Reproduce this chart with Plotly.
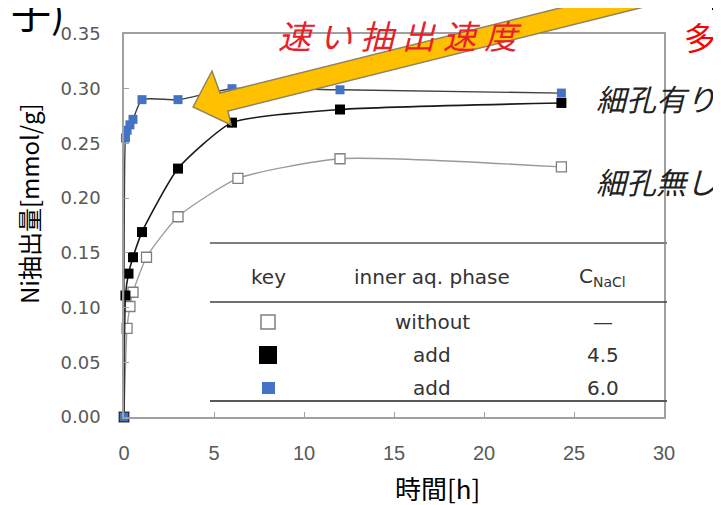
import plotly.graph_objects as go

# ---------------- data ----------------
t_without = [0, 0.17, 0.33, 0.5, 1.25, 3, 6.33, 12, 24.3]
y_without = [0, 0.081, 0.101, 0.114, 0.146, 0.183, 0.218, 0.236, 0.2285]

t_add45 = [0, 0.08, 0.25, 0.5, 1, 3, 6, 12, 24.3]
y_add45 = [0, 0.111, 0.131, 0.146, 0.169, 0.227, 0.269, 0.281, 0.287]

t_add60 = [0, 0.08, 0.17, 0.33, 0.5, 1, 3, 6, 12, 24.3]
y_add60 = [0, 0.255, 0.262, 0.267, 0.272, 0.290, 0.290, 0.300, 0.299, 0.296]

x_ticks = [0, 5, 10, 15, 20, 25, 30]
y_ticks = [0.00, 0.05, 0.10, 0.15, 0.20, 0.25, 0.30, 0.35]

table_header = ["key", "inner aq. phase", "C<sub>NaCl</sub>"]
table_phase = ["without", "add", "add"]
table_conc = ["—", "4.5", "6.0"]

# ---------------- layout helpers (screen pixel -> paper) ----------------
OFF = 8                      # page body margin
SW, SH = 721, 505            # window size
L, R, T, B = 124, 664, 34, 417   # plot area in screen pixels
W, H = SW - OFF, SH - OFF
def PX(x):
    return (x - L) / (R - L)
def PY(y):
    return (B - y) / (B - T)

fig = go.Figure()
fig.add_trace(go.Scatter(
    x=t_without, y=y_without, mode="lines+markers",
    line=dict(color="#9a9a9a", width=1.3, shape="spline", smoothing=0.55),
    marker=dict(symbol="square", size=10, color="white", line=dict(color="#7f7f7f", width=1.3)),
    cliponaxis=False, showlegend=False))
fig.add_trace(go.Scatter(
    x=t_add45, y=y_add45, mode="lines+markers",
    line=dict(color="#1a1a1a", width=1.6, shape="spline", smoothing=0.55),
    marker=dict(symbol="square", size=10, color="black"),
    cliponaxis=False, showlegend=False))
fig.add_trace(go.Scatter(
    x=t_add60, y=y_add60, mode="lines+markers",
    line=dict(color="#404040", width=1.4, shape="spline", smoothing=0.55),
    marker=dict(symbol="square", size=9, color="#4472C4"),
    cliponaxis=False, showlegend=False))

shapes = []
# table lines
shapes.append(dict(type="line", xref="paper", yref="paper", x0=PX(210), x1=PX(667), y0=PY(243), y1=PY(243),
                   line=dict(color="#7f7f7f", width=2)))
shapes.append(dict(type="line", xref="paper", yref="paper", x0=PX(210), x1=PX(667), y0=PY(302), y1=PY(302),
                   line=dict(color="#404040", width=1.5)))
shapes.append(dict(type="line", xref="paper", yref="paper", x0=PX(210), x1=PX(667), y0=PY(401), y1=PY(401),
                   line=dict(color="#595959", width=2)))
# key symbols
shapes.append(dict(type="rect", xref="paper", yref="paper", x0=PX(261), x1=PX(275), y0=PY(329), y1=PY(315),
                   fillcolor="white", line=dict(color="#7f7f7f", width=1.5)))
shapes.append(dict(type="rect", xref="paper", yref="paper", x0=PX(259), x1=PX(277), y0=PY(364), y1=PY(346),
                   fillcolor="black", line=dict(width=0)))
shapes.append(dict(type="rect", xref="paper", yref="paper", x0=PX(262), x1=PX(275), y0=PY(394), y1=PY(382),
                   fillcolor="#4472C4", line=dict(width=0)))
# yellow arrow (screen pixels)
arrow_px = [(193, 107), (212, 71), (220, 93), (740, -37), (740, -17), (228, 111), (231, 125)]
path = "M " + " L ".join(f"{PX(x):.5f},{PY(y):.5f}" for x, y in arrow_px) + " Z"
shapes.append(dict(type="path", xref="paper", yref="paper", path=path, layer="above",
                   fillcolor="#FFC000", line=dict(color="#8c8460", width=1.5)))
# small black fragment top right
shapes.append(dict(type="rect", xref="paper", yref="paper", x0=PX(712), x1=PX(722), y0=PY(10), y1=PY(6),
                   fillcolor="black", line=dict(width=0)))

ann = []
tfont = dict(family="DejaVu Sans", size=20, color="#333333")
for x, txt in zip([268, 432, 602], table_header):
    ann.append(dict(x=PX(x), y=PY(277), text=txt, font=tfont))
for yy, ph, cc in zip([322, 355, 388], table_phase, table_conc):
    ann.append(dict(x=PX(432), y=PY(yy), text=ph, font=tfont))
    ann.append(dict(x=PX(603), y=PY(yy), text=cc, font=tfont))

jp = "Noto Sans CJK JP"
sp = "\u2005"
ann.append(dict(x=PX(400), y=PY(35), text="<i>" + sp.join("速い抽出速度") + "</i>",
                font=dict(family=jp, size=33, color="#E8202A")))
ann.append(dict(x=PX(700), y=PY(36), text="多", font=dict(family=jp, size=32, color="#FF0000")))
ann.append(dict(x=PX(594), y=PY(98), text="<i>細孔有り</i>", xanchor="left",
                font=dict(family=jp, size=30, color="#222222")))
ann.append(dict(x=PX(594), y=PY(181), text="<i>細孔無し</i>", xanchor="left",
                font=dict(family=jp, size=30, color="#222222")))
ann.append(dict(x=PX(9), y=PY(11), text="子)", xanchor="left",
                font=dict(family=jp, size=40, color="black")))
# axis titles
ann.append(dict(x=PX(28), y=PY(204), text="Ni抽出量[mmol/g]", textangle=-90,
                font=dict(family=jp, size=24, color="black")))
ann.append(dict(x=PX(437), y=PY(487), text="時間[h]",
                font=dict(family=jp, size=26, color="black")))

for a in ann:
    a.setdefault("xref", "paper")
    a.setdefault("yref", "paper")
    a.setdefault("showarrow", False)
    a.setdefault("xanchor", "center")
    a.setdefault("yanchor", "middle")

fig.update_layout(
    width=W, height=H,
    margin=dict(l=L - OFF, r=SW - R, t=T - OFF, b=SH - B),
    paper_bgcolor="white", plot_bgcolor="white",
    shapes=shapes, annotations=ann,
    xaxis=dict(range=[0, 30], tickvals=x_ticks, ticktext=[str(v) for v in x_ticks],
               showgrid=False, zeroline=False, showline=True, mirror=True,
               linecolor="#a0a0a0", linewidth=1.5,
               ticks="inside", ticklen=5, tickcolor="#a0a0a0",
               ticklabelstandoff=17,
               tickfont=dict(family="Liberation Sans", size=20, color="#595959")),
    yaxis=dict(range=[0, 0.35], tickvals=y_ticks, ticktext=[f"{v:.2f}" for v in y_ticks],
               showgrid=False, zeroline=False, showline=True, mirror=True,
               linecolor="#a0a0a0", linewidth=1.5,
               ticks="inside", ticklen=5, tickcolor="#a0a0a0",
               ticklabelstandoff=18,
               tickfont=dict(family="DejaVu Sans", size=18, color="#595959")),
)

fig.write_html("out.html")
